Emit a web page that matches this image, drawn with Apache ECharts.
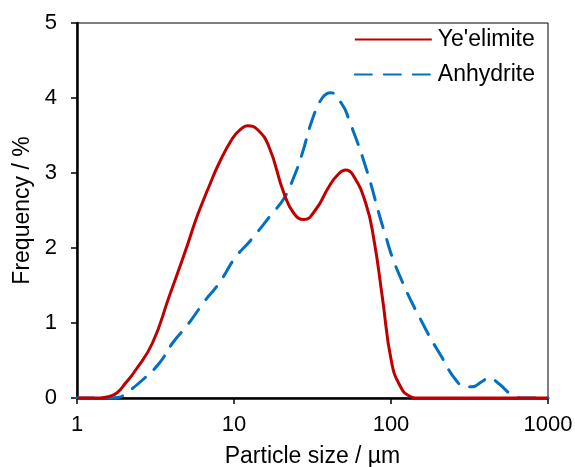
<!DOCTYPE html>
<html><head><meta charset="utf-8">
<script src="https://cdn.jsdelivr.net/npm/echarts@6/dist/echarts.min.js"></script>
<style>html,body{margin:0;padding:0;background:#fff}#c{width:575px;height:467px}</style>
</head><body><div id="c"></div>
<script>
var yeelimiteSize = [1,1.4,1.6,1.8,2.04,2.36,3.02,3.86,4.92,5.7,6.28,6.93,8.03,9.77,11,12.2,14.1,16.7,20.8,24.1,27.9,33.1,40.3,46,51.4,57,69,78,88,101,115,130,150,300,1000];
var yeelimiteFreq = [0,0,0.02,0.07,0.2,0.37,0.73,1.35,1.97,2.37,2.6,2.82,3.13,3.46,3.58,3.63,3.58,3.35,2.73,2.46,2.38,2.51,2.82,2.98,3.04,2.98,2.6,2.1,1.35,0.47,0.15,0.03,0,0,0];
var anhydriteSize = [1,1.6,1.85,2.04,2.61,3.33,4.05,5.17,6.44,8.03,10.25,12.5,17.5,20.8,24.1,27.2,31.5,36.5,41.3,49,54,69,90,112,167,210,259,300,328,380,421,480,590,680,1000];
var anhydriteFreq = [0,0,0.01,0.06,0.24,0.46,0.73,1.0,1.28,1.53,1.88,2.08,2.46,2.66,2.95,3.26,3.71,4.0,4.07,3.91,3.71,3.08,2.24,1.66,0.91,0.55,0.24,0.15,0.15,0.22,0.27,0.2,0.04,0,0];
var seriesNames = ["Ye'elimite", "Anhydrite"];
var xTicks = [1, 10, 100, 1000];
var yTicks = [0, 1, 2, 3, 4, 5];

function pairs(xs, ys){ return xs.map(function(x,i){ return [x, ys[i]]; }); }
var font = "'Liberation Sans', Arial, sans-serif";
var chart = echarts.init(document.getElementById('c'));
chart.setOption({
  animation: false,
  textStyle: {fontFamily: font},
  grid: {left: 77, right: 27, top: 23, bottom: 69, containLabel: false, outerBoundsMode: 'none',
         show: true, borderColor: '#000', borderWidth: 1},
  legend: {
    orient: 'vertical', right: 40, top: 28, padding: 0, itemGap: 12, itemWidth: 77, itemHeight: 14,
    itemStyle: {opacity: 0},
    textStyle: {fontSize: 23, lineHeight: 23, color: '#000', fontFamily: font, padding: [0, 0, 0, 1]},
    data: seriesNames
  },
  xAxis: {
    type: 'log', logBase: 10, min: xTicks[0], max: xTicks[xTicks.length-1],
    name: 'Particle size / µm', nameLocation: 'middle', nameGap: 47,
    nameTextStyle: {fontSize: 23, color: '#000', fontFamily: font},
    axisLine: {lineStyle: {color: '#000', width: 2.5}},
    axisTick: {show: true, length: 6, lineStyle: {color: '#000', width: 1.5}},
    minorTick: {show: false},
    axisLabel: {fontSize: 22, color: '#000', margin: 16, fontFamily: font,
      formatter: function(v){ return String(Math.round(v)); }},
    splitLine: {show: false}
  },
  yAxis: {
    type: 'value', min: yTicks[0], max: yTicks[yTicks.length-1], interval: 1,
    name: 'Frequency / %', nameLocation: 'middle', nameGap: 42,
    nameTextStyle: {fontSize: 23, color: '#000', fontFamily: font},
    axisLine: {show: true, lineStyle: {color: '#000', width: 2.5}},
    axisTick: {show: true, length: 6, lineStyle: {color: '#000', width: 1.5}},
    axisLabel: {fontSize: 22, color: '#000', margin: 20, fontFamily: font},
    splitLine: {show: false}
  },
  series: [
    {name: seriesNames[0], type: 'line', data: pairs(yeelimiteSize, yeelimiteFreq), smooth: 0.5,
     symbol: 'none', lineStyle: {color: '#C00000', width: 3}, itemStyle: {color: '#C00000'}, z: 3},
    {name: seriesNames[1], type: 'line', data: pairs(anhydriteSize, anhydriteFreq), smooth: 0.5,
     symbol: 'none', lineStyle: {color: '#0070C0', width: 3, type: [17, 12], cap: 'round'}, itemStyle: {color: '#0070C0'}, z: 2}
  ]
});
</script></body></html>
